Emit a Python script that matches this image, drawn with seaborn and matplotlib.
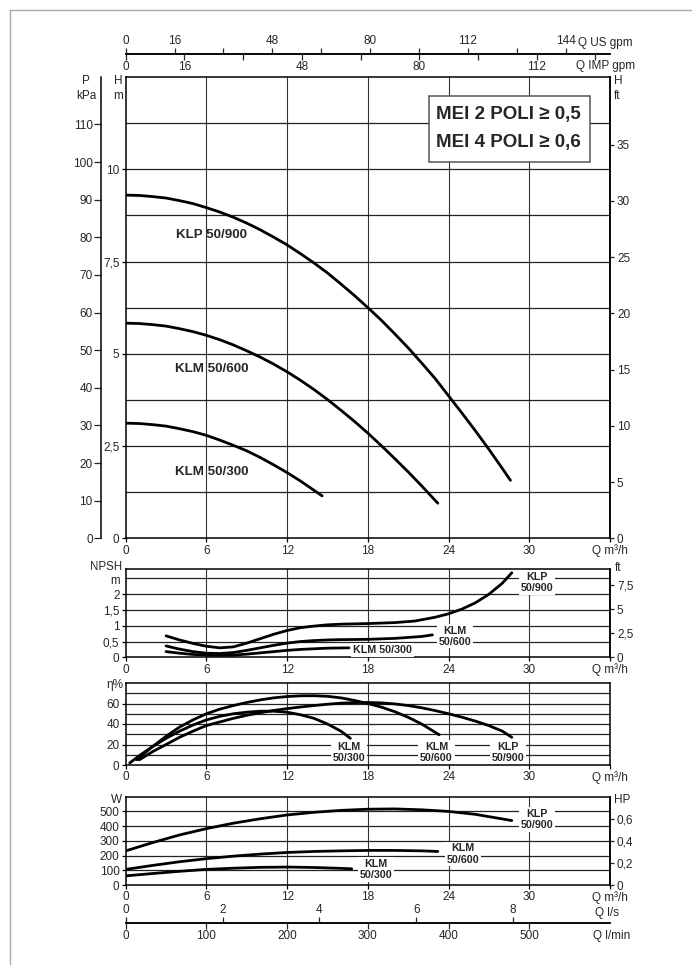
import numpy as np
import pandas as pd
import matplotlib
matplotlib.use("Agg")
import matplotlib.pyplot as plt
from matplotlib import font_manager
from matplotlib.patches import Rectangle
from matplotlib.lines import Line2D
from matplotlib.ticker import FuncFormatter
import seaborn as sns

sns.set_style("white")
plt.rcParams['font.family'] = ['Liberation Sans', 'DejaVu Sans']
names = {f.name for f in font_manager.fontManager.ttflist}
narrow = 'Liberation Sans Narrow' if 'Liberation Sans Narrow' in names else 'Liberation Sans'

# ---- data ----
models = ["KLM 50/300", "KLM 50/600", "KLP 50/900"]

# head H [m] vs Q [m3/h]
q_h_300 = [0, 1, 2, 3, 4, 5, 6, 7, 8, 9, 10, 11, 12, 13, 14, 14.6]
h_300 = [3.12, 3.11, 3.08, 3.04, 2.97, 2.89, 2.79, 2.66, 2.52, 2.37, 2.19, 1.99, 1.78, 1.55, 1.30, 1.15]
q_h_600 = [0, 1, 2, 3, 4, 5, 6, 7, 8, 9, 10, 11, 12, 13, 14, 15, 16, 17, 18, 19, 20, 21, 22, 23.2]
h_600 = [5.83, 5.82, 5.79, 5.75, 5.68, 5.60, 5.50, 5.38, 5.24, 5.08, 4.91, 4.72, 4.51, 4.28,
         4.03, 3.76, 3.47, 3.17, 2.85, 2.51, 2.16, 1.80, 1.42, 0.95]
q_h_900 = [0, 1, 2, 3, 4, 5, 6, 7, 8, 9, 10, 11, 12, 13, 14, 15, 16, 17, 18, 19, 20, 21, 22,
           23, 24, 25, 26, 27, 28, 28.6]
h_900 = [9.30, 9.29, 9.26, 9.22, 9.15, 9.07, 8.96, 8.84, 8.70, 8.54, 8.36, 8.16, 7.95, 7.71,
         7.46, 7.19, 6.89, 6.58, 6.25, 5.91, 5.54, 5.16, 4.75, 4.33, 3.86, 3.39, 2.91, 2.41,
         1.89, 1.57]

# NPSH [m]
q_n_300 = [3, 4, 5, 6, 7, 8, 9, 10, 11, 12, 13, 14, 15, 16.6]
n_300 = [0.18, 0.13, 0.09, 0.07, 0.06, 0.07, 0.10, 0.14, 0.18, 0.22, 0.25, 0.27, 0.29, 0.30]
q_n_600 = [3, 4, 5, 6, 7, 8, 9, 10, 11, 12, 13, 14, 15, 16, 18, 20, 22, 22.8]
n_600 = [0.36, 0.26, 0.18, 0.13, 0.12, 0.15, 0.22, 0.30, 0.38, 0.45, 0.50, 0.53, 0.55, 0.56,
         0.57, 0.60, 0.66, 0.71]
q_n_900 = [3, 4, 5, 6, 7, 8, 9, 10, 11, 12, 13, 14, 15, 16, 18, 20, 21.5, 23, 24, 25, 26, 27,
           28, 28.7]
n_900 = [0.68, 0.55, 0.44, 0.35, 0.30, 0.33, 0.45, 0.59, 0.73, 0.85, 0.94, 0.99, 1.03, 1.05,
         1.07, 1.10, 1.15, 1.27, 1.38, 1.53, 1.73, 2.00, 2.35, 2.68]

# efficiency [%]
q_e_300 = [0.3, 1, 2, 3, 4, 5, 6, 7, 8, 9, 10, 11, 12, 13, 14, 15, 16, 16.7]
e_300 = [2, 9, 18, 26, 33, 39, 44, 47.5, 50, 51.5, 52.5, 52.5, 51.5, 49, 45.5, 40, 33, 26]
q_e_600 = [0.8, 2, 3, 4, 5, 6, 7, 8, 9, 10, 11, 12, 13, 14, 15, 16, 17, 18, 19, 20, 21, 22, 23.3]
e_600 = [5, 18, 28, 37, 44, 50, 54.5, 58, 61, 63.5, 65.5, 66.8, 67.5, 67.6, 67, 65.5, 63, 60,
         56.5, 52, 46.5, 40, 29.5]
q_e_900 = [1, 2, 3, 4, 5, 6, 7, 8, 9, 10, 11, 12, 13, 14, 15, 16, 17, 18, 19, 20, 21, 22, 23,
           24, 25, 26, 27, 28, 28.7]
e_900 = [5, 13, 20, 27, 33, 38.5, 42, 45.5, 48.5, 51, 53.2, 55, 56.6, 58, 59.3, 60.3, 60.9,
         61, 60.6, 59.6, 58, 55.8, 53.1, 50, 46.6, 42.8, 38.4, 33, 27]

# power [W]
q_w_300 = [0, 2, 4, 6, 8, 10, 12, 14, 16, 16.8]
w_300 = [62, 78, 93, 106, 114, 120, 122, 119, 113, 110]
q_w_600 = [0, 2, 4, 6, 8, 10, 12, 14, 16, 18, 20, 22, 23.2]
w_600 = [106, 133, 158, 179, 196, 210, 221, 228, 232, 235, 235, 232, 228]
q_w_900 = [0, 2, 4, 6, 8, 10, 12, 14, 16, 18, 20, 22, 24, 26, 28.7]
w_900 = [232, 288, 340, 383, 420, 450, 476, 494, 507, 515, 517, 511, 500, 480, 438]

q_ticks = [0, 6, 12, 18, 24, 30]


def frame(q, v):
    return pd.DataFrame({"Q": q, "v": v})


W, H = 692, 965
fig = plt.figure(figsize=(W / 100, H / 100), dpi=100)


def box(x0, y0, x1, y1):
    return [x0 / W, 1 - y1 / H, (x1 - x0) / W, (y1 - y0) / H]


def ftext(x, y, s, **kw):
    kw.setdefault("fontsize", 8.5)
    fig.text(x / W, 1 - y / H, s, **kw)


comma = FuncFormatter(lambda v, _: f"{v:g}".replace(".", ","))
L, R = 125.7, 610


def style(ax, ylim, hlines):
    ax.set_xlim(0, 36)
    ax.set_ylim(*ylim)
    for v in q_ticks[1:]:
        ax.axvline(v, color="#333333", lw=0.8, zorder=1)
    for v in hlines:
        ax.axhline(v, color="#222222", lw=0.9, zorder=1)
    ax.set_xticks(q_ticks + [36])
    ax.set_xticklabels([str(t) for t in q_ticks] + ["Q m³/h"])
    ax.yaxis.set_major_formatter(comma)
    ax.tick_params(axis="both", length=3, pad=1.5, labelsize=8.5, color="black",
                   left=True, bottom=True, width=0.9)
    for s in ax.spines.values():
        s.set_color("black")
        s.set_linewidth(1.1)
    ax.set_xlabel("")
    ax.set_ylabel("")


def curves(ax, sets):
    for q, v in sets:
        sns.lineplot(data=frame(q, v), x="Q", y="v", ax=ax, color="black", lw=2,
                     legend=False, zorder=3)


def tag(ax, x, y, s, size=7.7):
    ax.text(x, y, s, ha="center", va="center", fontsize=size, fontweight="bold",
            linespacing=1.15, zorder=4,
            bbox=dict(facecolor="white", edgecolor="none", pad=1.2))


# ---- head panel ----
ax_h = fig.add_axes(box(L, 77, R, 538.3))
curves(ax_h, [(q_h_300, h_300), (q_h_600, h_600), (q_h_900, h_900)])
style(ax_h, (0, 12.5), np.arange(1.25, 11.3, 1.25))
ax_h.set_yticks([0, 2.5, 5, 7.5, 10])
for y, s in [(8.22, models[2]), (4.59, models[1]), (1.80, models[0])]:
    ax_h.text(6.4, y, s, ha="center", va="center", fontsize=9.6, fontweight="bold", zorder=4)

p_ax = ax_h.secondary_yaxis((101 - L) / (R - L), functions=(lambda h: h * 9.81, lambda p: p / 9.81))
p_ax.set_yticks(range(0, 111, 10))
p_ax.tick_params(length=5, pad=1, labelsize=8.5, width=0.9)
ft_ax = ax_h.secondary_yaxis("right", functions=(lambda h: h / 0.3048, lambda f: f * 0.3048))
ft_ax.set_yticks(range(0, 36, 5))
ft_ax.tick_params(length=3, pad=2, labelsize=8.5, width=0.9)
for a in (p_ax, ft_ax):
    for s in a.spines.values():
        s.set_color("black")
        s.set_linewidth(1.1)

ax_h.add_patch(Rectangle(((429 - L) / (R - L), (538.3 - 162) / 461.3),
                         (590 - 429) / (R - L), 66 / 461.3, transform=ax_h.transAxes,
                         facecolor="white", edgecolor="#555555", lw=1.1, zorder=5))
ax_h.text(0.79, (538.3 - 114) / 461.3, "MEI 2 POLI ≥ 0,5", transform=ax_h.transAxes,
          ha="center", va="center", fontsize=13.5, fontweight="bold", family=[narrow, "DejaVu Sans"], zorder=6)
ax_h.text(0.79, (538.3 - 142) / 461.3, "MEI 4 POLI ≥ 0,6", transform=ax_h.transAxes,
          ha="center", va="center", fontsize=13.5, fontweight="bold", family=[narrow, "DejaVu Sans"], zorder=6)

ftext(86, 81, "P", ha="center", va="center")
ftext(86, 96, "kPa", ha="center", va="center")
ftext(118, 81, "H", ha="center", va="center")
ftext(118, 96, "m", ha="center", va="center")
ftext(614, 81, "H", ha="left", va="center")
ftext(614, 96, "ft", ha="left", va="center")

# ---- top flow axes (gpm) ----
ax_t = fig.add_axes(box(L, 54, R, 54.1))
ax_t.set_xlim(0, 36)
ax_t.axis("off")
us = ax_t.secondary_xaxis("top", functions=(lambda q: q * 4.4029, lambda g: g / 4.4029))
us.set_xticks(range(0, 145, 16))
us.set_xticklabels([str(t) if t in (0, 16, 48, 80, 112, 144) else "" for t in range(0, 145, 16)])
us.tick_params(length=4, pad=1, labelsize=8.5, width=0.9)
imp = ax_t.secondary_xaxis("bottom", functions=(lambda q: q * 3.6662, lambda g: g / 3.6662))
imp.set_xticks(range(0, 129, 16))
imp.set_xticklabels([str(t) if t in (0, 16, 48, 80, 112) else "" for t in range(0, 129, 16)])
imp.tick_params(length=4, pad=1, labelsize=8.5, width=0.9)
for a in (us, imp):
    for s in a.spines.values():
        s.set_linewidth(1.1)
        s.set_color("black")
ftext(578, 43, "Q US gpm", ha="left", va="center")
ftext(576, 66, "Q IMP gpm", ha="left", va="center")

# ---- NPSH panel ----
ax_n = fig.add_axes(box(L, 569, R, 657.3))
curves(ax_n, [(q_n_300, n_300), (q_n_600, n_600), (q_n_900, n_900)])
style(ax_n, (0, 2.8), [0.5, 1, 1.5, 2, 2.5])
ax_n.set_yticks([0, 0.5, 1, 1.5, 2])
n_ft = ax_n.secondary_yaxis("right", functions=(lambda m: m / 0.3048, lambda f: f * 0.3048))
n_ft.set_yticks([0, 2.5, 5, 7.5])
n_ft.yaxis.set_major_formatter(comma)
n_ft.tick_params(length=3, pad=2, labelsize=8.5, width=0.9)
tag(ax_n, 30.6, 2.37, "KLP\n50/900")
tag(ax_n, 24.5, 0.67, "KLM\n50/600")
tag(ax_n, 19.1, 0.23, "KLM 50/300")
ftext(122, 567.5, "NPSH", ha="right", va="center", fontsize=8.3)
ftext(120, 580.5, "m", ha="right", va="center", fontsize=8.3)
ftext(615, 568, "ft", ha="left", va="center")

# ---- efficiency panel ----
ax_e = fig.add_axes(box(L, 683, R, 765))
curves(ax_e, [(q_e_300, e_300), (q_e_600, e_600), (q_e_900, e_900)])
style(ax_e, (0, 80), range(10, 71, 10))
ax_e.set_yticks([0, 20, 40, 60])
tag(ax_e, 16.6, 12.5, "KLM\n50/300")
tag(ax_e, 23.1, 12.5, "KLM\n50/600")
tag(ax_e, 28.4, 12.5, "KLP\n50/900")
ftext(123, 685, "η%", ha="right", va="center")

# ---- power panel ----
ax_w = fig.add_axes(box(L, 796.7, R, 885))
curves(ax_w, [(q_w_300, w_300), (q_w_600, w_600), (q_w_900, w_900)])
style(ax_w, (0, 600), range(100, 501, 100))
ax_w.set_yticks(range(0, 501, 100))
hp = ax_w.secondary_yaxis("right", functions=(lambda w: w / 745.7, lambda h: h * 745.7))
hp.set_yticks([0, 0.2, 0.4, 0.6])
hp.yaxis.set_major_formatter(comma)
hp.tick_params(length=3, pad=2, labelsize=8.5, width=0.9)
tag(ax_w, 30.6, 445, "KLP\n50/900")
tag(ax_w, 25.1, 210, "KLM\n50/600")
tag(ax_w, 18.6, 104, "KLM\n50/300")
ftext(122, 800, "W", ha="right", va="center")
ftext(614, 800, "HP", ha="left", va="center")

for a in (n_ft, hp):
    for s in a.spines.values():
        s.set_color("black")
        s.set_linewidth(1.1)

# ---- bottom flow axes (l/s, l/min) ----
ax_b = fig.add_axes(box(L, 923, R, 923.1))
ax_b.set_xlim(0, 36)
ax_b.axis("off")
ls = ax_b.secondary_xaxis("top", functions=(lambda q: q / 3.6, lambda v: v * 3.6))
ls.set_xticks(range(0, 9, 2))
ls.tick_params(length=4, pad=1, labelsize=8.5, width=0.9)
lm = ax_b.secondary_xaxis("bottom", functions=(lambda q: q / 0.06, lambda v: v * 0.06))
lm.set_xticks(range(0, 501, 100))
lm.tick_params(length=4, pad=1, labelsize=8.5, width=0.9)
for a in (ls, lm):
    for s in a.spines.values():
        s.set_linewidth(1.1)
        s.set_color("black")
ftext(595, 913, "Q l/s", ha="left", va="center")
ftext(593, 936, "Q l/min", ha="left", va="center")

# thin page border (top and left)
fig.add_artist(Line2D([10 / W, 1], [1 - 9.5 / H, 1 - 9.5 / H], color="#aaaaaa", lw=1))
fig.add_artist(Line2D([10 / W, 10 / W], [0, 1 - 9.5 / H], color="#aaaaaa", lw=1))

fig.savefig("out.png", dpi=100)
